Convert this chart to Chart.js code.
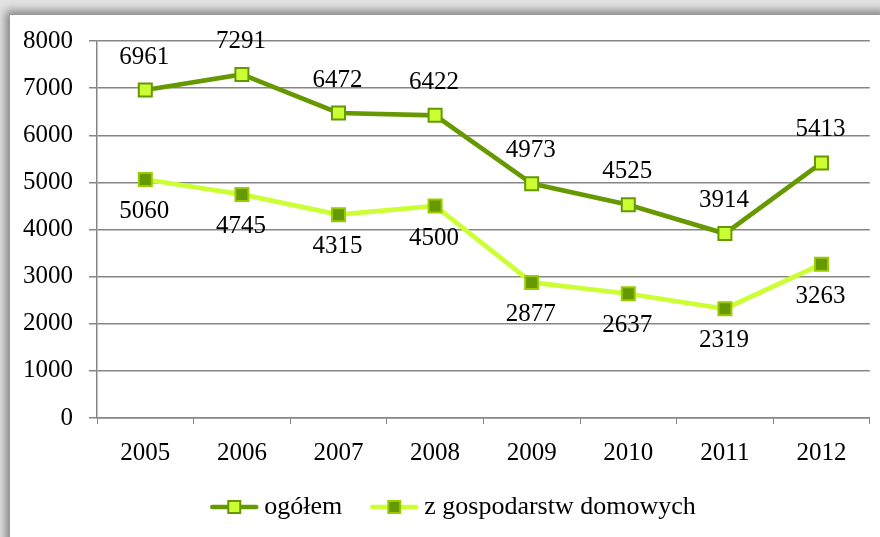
<!DOCTYPE html>
<html>
<head>
<meta charset="utf-8">
<script src="https://cdn.jsdelivr.net/npm/chart.js@4/dist/chart.umd.min.js"></script>
<style>
  html, body { margin: 0; padding: 0; }
  body { width: 880px; height: 537px; background: #e2e2e2; overflow: hidden; position: relative; }
  #frame {
    position: absolute; left: 9px; top: 14px; width: 880px; height: 540px;
    background: #fff; border-left: 1px solid #9a9a9a; border-top: 1px solid #9a9a9a;
    box-shadow: -3px -3px 9px rgba(0,0,0,0.45);
  }
  #wrap { position: absolute; left: 0; top: 0; width: 871px; height: 523px; }
</style>
</head>
<body>
<div id="frame"><div id="wrap"><canvas id="myChart"></canvas></div></div>
<script>
const years = ['2005', '2006', '2007', '2008', '2009', '2010', '2011', '2012'];
const ogolem = [6961, 7291, 6472, 6422, 4973, 4525, 3914, 5413];
const zGospodarstw = [5060, 4745, 4315, 4500, 2877, 2637, 2319, 3263];
const yTicks = [0, 1000, 2000, 3000, 4000, 5000, 6000, 7000, 8000];

const darkGreen = '#669900';
const lightGreen = '#ccff33';
const fontFamily = "'Liberation Serif', serif";
const font = { family: fontFamily, size: 25 };
const legendFont = { family: fontFamily, size: 26 };

// legend symbol: line with square marker
function legendSymbol(lineColor, fill, border) {
  const c = document.createElement('canvas');
  c.width = 50; c.height = 16;
  const g = c.getContext('2d');
  g.strokeStyle = lineColor; g.lineWidth = 4.5; g.lineCap = 'round';
  g.beginPath(); g.moveTo(3, 8); g.lineTo(47, 8); g.stroke();
  g.fillStyle = fill; g.fillRect(19, 2, 12, 12);
  g.strokeStyle = border; g.lineWidth = 2; g.strokeRect(19, 2, 12, 12);
  return c;
}

const valueLabels = {
  id: 'valueLabels',
  afterDatasetsDraw(chart) {
    const ctx = chart.ctx;
    ctx.save();
    ctx.font = font.size + 'px ' + font.family;
    ctx.fillStyle = '#000';
    ctx.textAlign = 'center';
    ctx.textBaseline = 'middle';
    chart.data.datasets.forEach((ds, i) => {
      chart.getDatasetMeta(i).data.forEach((pt, j) => {
        const dy = i === 0 ? -33 : 32;
        ctx.fillText(String(ds.data[j]), pt.x - 1, pt.y + dy);
      });
    });
    ctx.restore();
  }
};

// nudge the legend into place, as in the original
const legendShift = {
  id: 'legendShift',
  afterLayout(chart) {
    chart.legend.left += 33;
    chart.legend.top -= 6;
  }
};

const ctx = document.getElementById('myChart').getContext('2d');
new Chart(ctx, {
  type: 'line',
  data: {
    labels: years,
    datasets: [{
      label: 'ogółem',
      data: ogolem,
      borderColor: darkGreen,
      borderWidth: 4.7,
      pointStyle: 'rect',
      pointRadius: 9.2,
      pointBackgroundColor: lightGreen,
      pointBorderColor: darkGreen,
      pointBorderWidth: 2,
      tension: 0,
      clip: false,
      legendSymbol: legendSymbol(darkGreen, lightGreen, darkGreen)
    }, {
      label: 'z gospodarstw domowych',
      data: zGospodarstw,
      borderColor: lightGreen,
      borderWidth: 4.7,
      pointStyle: 'rect',
      pointRadius: 9.2,
      pointBackgroundColor: darkGreen,
      pointBorderColor: '#99cc00',
      pointBorderWidth: 2,
      tension: 0,
      clip: false,
      legendSymbol: legendSymbol(lightGreen, darkGreen, '#99cc00')
    }]
  },
  options: {
    responsive: true,
    maintainAspectRatio: false,
    animation: false,
    layout: { padding: { top: 26, right: 11, left: 0, bottom: 2 } },
    plugins: {
      tooltip: { enabled: false },
      legend: {
        position: 'bottom',
        labels: {
          font: legendFont,
          color: '#000',
          usePointStyle: true,
          pointStyleWidth: 34,
          padding: 35,
          generateLabels(chart) {
            return chart.data.datasets.map((ds, i) => ({
              text: ds.label,
              pointStyle: ds.legendSymbol,
              fontColor: '#000',
              lineWidth: 0,
              datasetIndex: i
            }));
          }
        }
      }
    },
    scales: {
      x: {
        offset: true,
        grid: { offset: true, drawOnChartArea: false, drawTicks: true, tickLength: 6, color: '#868686' },
        border: { color: '#868686', width: 1.5 },
        ticks: { font: font, color: '#000', padding: 14 },
        afterFit(scale) { scale.height = 47; scale.paddingLeft = 0; scale.paddingRight = 0; }
      },
      y: {
        min: 0,
        max: 8000,
        afterBuildTicks(scale) { scale.ticks = yTicks.map(v => ({ value: v })); },
        grid: { color: '#868686', lineWidth: 1.5, tickLength: 8 },
        border: { color: '#868686', width: 1.5 },
        ticks: { font: font, color: '#000', padding: 16, callback: v => String(v) },
        afterFit(scale) { scale.width = 87; scale.paddingTop = 0; scale.paddingBottom = 0; }
      }
    }
  },
  plugins: [valueLabels, legendShift]
});
</script>
</body>
</html>
